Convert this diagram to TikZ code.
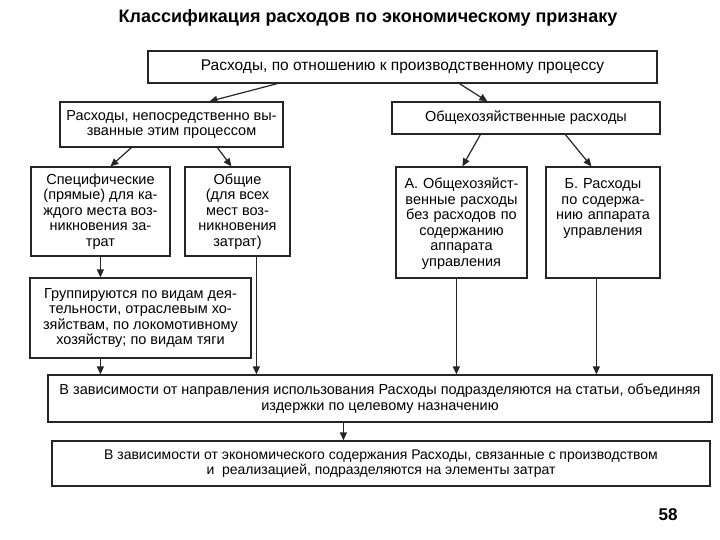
\documentclass[tikz,border=0pt]{standalone}
\usepackage{fontspec}
\setmainfont{Liberation Sans}
\usetikzlibrary{arrows.meta}

\begin{document}
\begin{tikzpicture}[x=1pt, y=-1pt, line width=1.2pt,
                    box node/.style={rectangle,draw=black!85,align=center,inner sep=2pt,font=\fontsize{14.5}{15.5}\selectfont},
                    tall node/.style={box node,text height=20pt,text depth=87pt},
                    arrow/.style={draw=black!85,-{Triangle[length=8pt,width=7pt]}}]

  \useasboundingbox (0,0) rectangle (720,540);

  \node[font=\bfseries\fontsize{18}{20}\selectfont] (0) at (368,18) {Классификация расходов по экономическому признаку};

  \node[box node,minimum width=509pt,minimum height=32pt,font=\fontsize{15.5}{16}\selectfont] (1) at (402.5,67) {Расходы, по отношению к производственному процессу};
  \node[box node,minimum width=223pt,minimum height=45pt] (2) at (171.5,124.5) {Расходы, непосредственно вы-\\званные этим процессом};
  \node[box node,minimum width=268pt,minimum height=32pt] (3) at (526,118) {Общехозяйственные расходы};
  \node[box node,minimum width=139pt,minimum height=89pt] (4) at (100.5,211.5) {Специфические\\(прямые) для ка-\\ждого места воз-\\никновения за-\\трат};
  \node[box node,minimum width=105pt,minimum height=89pt] (5) at (237.5,211.5) {Общие\\(для всех\\мест воз-\\никновения\\затрат)};
  \node[tall node,text width=125pt,minimum width=131pt] (6) at (461.5,222.5) {А. Общехозяйст-\\венные расходы\\без расходов по\\содержанию\\аппарата\\управления};
  \node[tall node,text width=108pt,minimum width=114pt] (7) at (603,222.5) {Б. Расходы\\по содержа-\\нию аппарата\\управления};
  \node[box node,minimum width=221pt,minimum height=80pt] (8) at (140.5,318) {Группируются по видам дея-\\тельности, отраслевым хо-\\зяйствам, по локомотивному\\хозяйству; по видам тяги};
  \node[box node,minimum width=664pt,minimum height=47pt] (9) at (380,398.5) {В зависимости от направления использования Расходы подразделяются на статьи, объединяя\\издержки по целевому назначению};
  \node[box node,minimum width=658pt,minimum height=45pt,font=\fontsize{14}{15.5}\selectfont] (10) at (381,463.5) {В зависимости от экономического содержания Расходы, связанные с производством\\и~ реализацией, подразделяются на элементы затрат};

  \node[font=\bfseries\fontsize{17}{19}\selectfont] (11) at (668,515) {58};

\path[every edge/.style={arrow}]
    ([xshift=130pt]1.south west) edge ([xshift=150pt]2.north west)
    ([xshift=312pt]1.south west) edge ([xshift=96pt]3.north west)
    ([xshift=72pt]2.south west) edge ([xshift=80pt]4.north west)
    ([xshift=158pt]2.south west) edge ([xshift=47pt]5.north west)
    ([xshift=89pt]3.south west) edge ([xshift=67pt]6.north west)
    ([xshift=174pt]3.south west) edge ([xshift=46pt]7.north west)

    ([xshift=70pt]4.south west) edge ([xshift=71pt]8.north west)
    ([xshift=71pt]8.south west) edge ([xshift=53pt]9.north west)
    ([xshift=72pt]5.south west) edge ([xshift=209pt]9.north west)
    ([xshift=61pt]6.south west) edge ([xshift=409pt]9.north west)
    ([xshift=51pt]7.south west) edge ([xshift=549pt]9.north west)
    ([xshift=296pt]9.south west) edge ([xshift=292pt]10.north west)
  ;

\end{tikzpicture}
\end{document}
